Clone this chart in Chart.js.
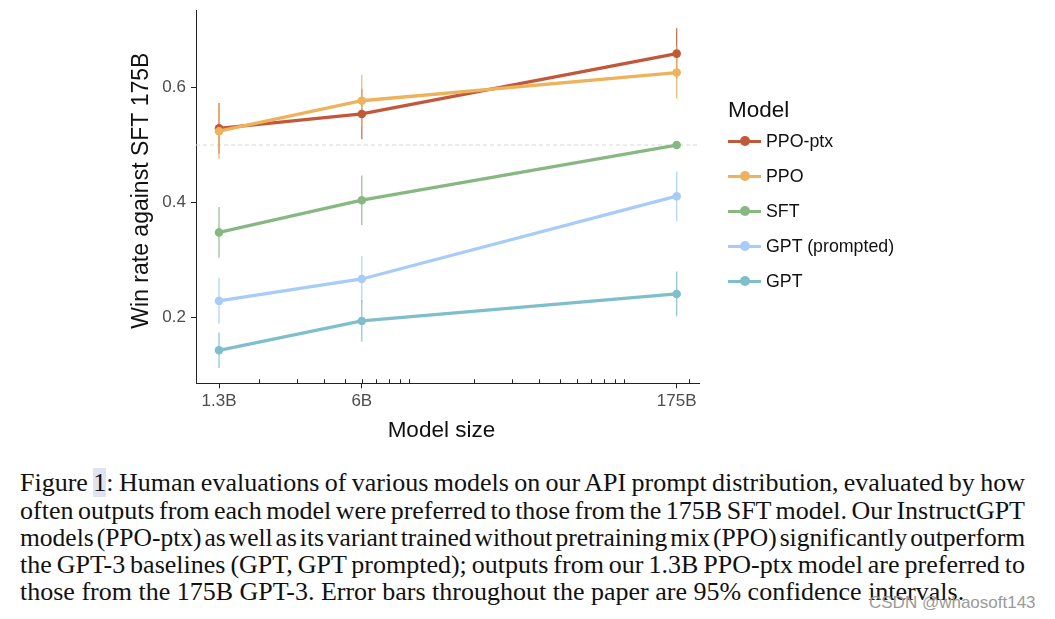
<!DOCTYPE html>
<html><head><meta charset="utf-8">
<script src="https://cdn.jsdelivr.net/npm/chart.js@4"></script>
<style>
body{margin:0;background:#fff;width:1055px;height:619px;overflow:hidden;position:relative;font-family:"Liberation Sans",Arial,sans-serif;}
#c{position:absolute;left:0;top:0;}
.lt{position:absolute;font-size:22.5px;line-height:26px;color:#111;}
.row{position:absolute;left:728px;height:20px;display:flex;align-items:center;font-size:17.8px;color:#111;}
.sw{position:relative;width:33px;height:20px;flex:none;}
.sw .ln{position:absolute;left:0;top:8.5px;width:33px;height:3px;}
.sw .dt{position:absolute;left:11.5px;top:5px;width:10px;height:10px;border-radius:50%;}
.row span{margin-left:5px;}
.cap{position:absolute;left:20px;font-family:"Liberation Serif","Times New Roman",serif;font-size:26px;line-height:27px;color:#111;white-space:nowrap;transform-origin:0 50%;}
.hl{background:#dfe3f2;}
.wm{position:absolute;left:869px;top:593px;font-size:17px;color:#9a9a9a;font-family:"Liberation Sans",Arial,sans-serif;}
</style>
</head><body>
<canvas id="c" width="1055" height="455"></canvas>
<div id="legend"></div>
<div class="cap" data-j="1" style="top:469px"><span class="in">Figure <span class="hl">1</span>: Human evaluations of various models on our API prompt distribution, evaluated by how</span></div>
<div class="cap" data-j="1" style="top:497px"><span class="in">often outputs from each model were preferred to those from the 175B SFT model. Our InstructGPT</span></div>
<div class="cap" data-j="1" style="top:524px"><span class="in">models (PPO-ptx) as well as its variant trained without pretraining mix (PPO) significantly outperform</span></div>
<div class="cap" data-j="1" style="top:551px"><span class="in">the GPT-3 baselines (GPT, GPT prompted); outputs from our 1.3B PPO-ptx model are preferred to</span></div>
<div class="cap" data-j="0" style="top:578px"><span class="in">those from the 175B GPT-3. Error bars throughout the paper are 95% confidence intervals.</span></div>
<div class="wm">CSDN @whaosoft143</div>
<script>
// ---- data ----
const xValues = [1.3, 6, 175];
const seriesNames = ['PPO-ptx', 'PPO', 'SFT', 'GPT (prompted)', 'GPT'];
const seriesColors = ['#C1583A', '#EDB25C', '#88B882', '#A7CCF8', '#7FBFCC'];
const ppoPtx = [0.529, 0.554, 0.659];
const ppo = [0.524, 0.577, 0.626];
const sft = [0.348, 0.404, 0.500];
const gptPrompted = [0.229, 0.267, 0.411];
const gpt = [0.143, 0.194, 0.241];
const ppoPtxErr = [0.044, 0.044, 0.044];
const ppoErr = [0.048, 0.045, 0.045];
const sftErr = [0.044, 0.043, 0];
const gptPromptedErr = [0.040, 0.040, 0.043];
const gptErr = [0.031, 0.036, 0.039];
const xMajorTicks = [1.3, 6, 175];
const xTickLabels = ['1.3B', '6B', '175B'];
const xMinorTicks = [2, 3, 4, 5, 6, 7, 8, 9, 10, 20, 30, 40, 50, 60, 70, 80, 90, 100, 200];
const yTicks = [0.2, 0.4, 0.6];
const yTickLabels = ['0.2', '0.4', '0.6'];
const referenceLine = 0.5;

const values = [ppoPtx, ppo, sft, gptPrompted, gpt];
const errors = [ppoPtxErr, ppoErr, sftErr, gptPromptedErr, gptErr];
const FAM = '"Liberation Sans", Arial, sans-serif';
const NB = '\u00A0';

// caption justification (manual word spacing, slight condensing when needed)
const CAP_W = 1005, MIN_WS = -3.5;
document.querySelectorAll('.cap').forEach(el => {
  const inner = el.querySelector('.in');
  const w = inner.getBoundingClientRect().width;
  if (el.dataset.j === '1') {
    const n = (inner.textContent.match(/ /g) || []).length;
    let ws = (CAP_W - w) / n;
    if (ws < MIN_WS) {
      el.style.wordSpacing = MIN_WS + 'px';
      el.style.transform = 'scaleX(' + (CAP_W / (w + MIN_WS * n)) + ')';
    } else {
      el.style.wordSpacing = ws + 'px';
    }
  }
});

// legend (HTML)
const lg = document.getElementById('legend');
lg.innerHTML = '<div class="lt" style="left:728px;top:97px">Model</div>' +
  seriesNames.map((n, i) => `<div class="row" style="top:${131 + 35 * i}px"><div class="sw"><div class="ln" style="background:${seriesColors[i]}"></div><div class="dt" style="background:${seriesColors[i]}"></div></div><span>${n}</span></div>`).join('');

const extras = {
  id: 'extras',
  beforeDatasetsDraw(chart) {
    const { ctx, chartArea: a, scales: { x, y } } = chart;
    ctx.save();
    const yr = y.getPixelForValue(referenceLine);
    ctx.strokeStyle = '#d8d8d8'; ctx.lineWidth = 1; ctx.setLineDash([4, 3]);
    ctx.beginPath(); ctx.moveTo(a.left, yr); ctx.lineTo(a.right, yr); ctx.stroke();
    ctx.setLineDash([]);
    values.forEach((vals, i) => {
      ctx.strokeStyle = seriesColors[i]; ctx.globalAlpha = 0.85; ctx.lineWidth = 1.3;
      vals.forEach((v, j) => {
        const e = errors[i][j]; if (!e) return;
        const px = x.getPixelForValue(xValues[j]);
        ctx.beginPath();
        ctx.moveTo(px, y.getPixelForValue(v - e));
        ctx.lineTo(px, y.getPixelForValue(v + e));
        ctx.stroke();
      });
    });
    ctx.restore();
  },
  afterDraw(chart) {
    const { ctx, chartArea: a, scales: { x } } = chart;
    ctx.save();
    ctx.strokeStyle = '#222'; ctx.lineWidth = 1;
    xMinorTicks.forEach(v => {
      const px = Math.round(x.getPixelForValue(v)) + 0.5;
      ctx.beginPath(); ctx.moveTo(px, a.bottom); ctx.lineTo(px, a.bottom - 4); ctx.stroke();
    });
    ctx.restore();
  }
};

new Chart(document.getElementById('c'), {
  type: 'line',
  data: {
    datasets: seriesNames.map((name, i) => ({
      label: name,
      data: xValues.map((x, j) => ({ x: x, y: values[i][j] })),
      borderColor: seriesColors[i],
      backgroundColor: seriesColors[i],
      borderWidth: 3.3,
      pointRadius: 4.3,
      pointBorderWidth: 0,
      pointHoverRadius: 4.3,
      tension: 0,
      order: seriesNames.length - i
    }))
  },
  options: {
    responsive: false,
    animation: false,
    devicePixelRatio: 1,
    layout: { padding: { top: 10.7, right: 355.7, bottom: 0, left: 0 } },
    plugins: { legend: { display: false }, tooltip: { enabled: false } },
    scales: {
      x: {
        type: 'logarithmic', min: 1.016, max: 223, bounds: 'data',
        afterBuildTicks: s => { s.ticks = xMajorTicks.map(v => ({ value: v })); },
        afterFit: s => { s.height = 455 - 383.3; s.paddingLeft = 0; s.paddingRight = 0; },
        ticks: { autoSkip: false, maxRotation: 0, minRotation: 0, padding: 3, color: '#4d4d4d',
          font: { family: FAM, size: 17 }, callback: (v, i) => xTickLabels[i] },
        grid: { drawOnChartArea: false, drawTicks: true, tickLength: 5, color: '#222', lineWidth: 1 },
        border: { display: true, color: '#222', width: 1 },
        title: { display: true, text: 'Model size' + NB + NB, color: '#111', font: { family: FAM, size: 22.5 }, padding: { top: 0, bottom: 10.5 } }
      },
      y: {
        type: 'linear', min: 0.0856, max: 0.7336, bounds: 'data',
        afterBuildTicks: s => { s.ticks = yTicks.map(v => ({ value: v })); },
        afterFit: s => { s.width = 196; s.paddingTop = 0; s.paddingBottom = 0; },
        ticks: { padding: 5, color: '#4d4d4d', font: { family: FAM, size: 17 }, callback: (v, i) => yTickLabels[i] },
        grid: { drawOnChartArea: false, drawTicks: true, tickLength: 5, color: '#222', lineWidth: 1 },
        border: { display: true, color: '#222', width: 1 },
        title: { display: true, text: NB + NB + 'Win rate against SFT 175B', color: '#111', font: { family: FAM, size: 23 }, padding: { top: 128.2, bottom: 0 } }
      }
    }
  },
  plugins: [extras]
});
</script>
</body></html>
